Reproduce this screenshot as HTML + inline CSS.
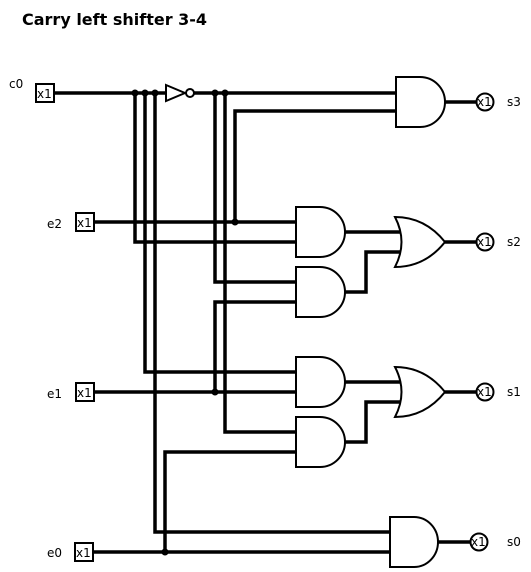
<!DOCTYPE html>
<html><head><style>
html,body{margin:0;padding:0;background:#fff;}
svg{display:block;}
text{font-family:"DejaVu Sans","Liberation Sans",sans-serif;}
</style></head><body>
<svg width="531" height="572" viewBox="0 0 531 572" xmlns="http://www.w3.org/2000/svg">
<rect width="531" height="572" fill="#fff"/>
<text x="22" y="25" font-size="16" font-weight="bold">Carry left shifter 3-4</text>
<g font-size="12">
<text x="9" y="88">c0</text>
<text x="47" y="228">e2</text>
<text x="47" y="398">e1</text>
<text x="47" y="557">e0</text>
<text x="507" y="106">s3</text>
<text x="507" y="246">s2</text>
<text x="507" y="396">s1</text>
<text x="507" y="546">s0</text>
</g>
<g fill="none" stroke="#000" stroke-width="3.5">
<path d="M54 93H166M193 93H396"/>
<path d="M135 93V242H296"/>
<path d="M145 93V372H296"/>
<path d="M155 93V532H391"/>
<path d="M215 93V282H296"/>
<path d="M225 93V432H296"/>
<path d="M235 222V111H396"/>
<path d="M94 222H296"/>
<path d="M94 392H296"/>
<path d="M215 392V302H296"/>
<path d="M93 552H391"/>
<path d="M165 552V452H296"/>
<path d="M345 232H400M345 292H366V252H400"/>
<path d="M345 382H400M345 442H366V402H400"/>
<path d="M445 102H477M445 242H477M445 392H477M437 542H470"/>
</g>
<g fill="#000">
<circle cx="135" cy="93" r="3.5"/><circle cx="145" cy="93" r="3.5"/><circle cx="155" cy="93" r="3.5"/>
<circle cx="215" cy="93" r="3.5"/><circle cx="225" cy="93" r="3.5"/>
<circle cx="235" cy="222" r="3.5"/><circle cx="215" cy="392" r="3.5"/><circle cx="165" cy="552" r="3.5"/>
</g>
<g fill="#fff" stroke="#000" stroke-width="2">
<path d="M166 85L185 93L166 101Z"/>
<circle cx="190" cy="93" r="4"/>
<path d="M396 77H420A25 25 0 0 1 420 127H396Z"/>
<path d="M296 207H320A25 25 0 0 1 320 257H296Z"/>
<path d="M296 267H320A25 25 0 0 1 320 317H296Z"/>
<path d="M296 357H320A25 25 0 0 1 320 407H296Z"/>
<path d="M296 417H320A25 25 0 0 1 320 467H296Z"/>
<path d="M390 517H414A24 25 0 0 1 414 567H390Z"/>
<path d="M395 217Q425 217 445 242Q425 267 395 267Q408 242 395 217Z"/>
<path d="M395 367Q425 367 445 392Q425 417 395 417Q408 392 395 367Z"/>
<rect x="36" y="84" width="18" height="18"/>
<rect x="76" y="213" width="18" height="18"/>
<rect x="76" y="383" width="18" height="18"/>
<rect x="75" y="543" width="18" height="18"/>
<circle cx="485" cy="102" r="8.5"/>
<circle cx="485" cy="242" r="8.5"/>
<circle cx="485" cy="392" r="8.5"/>
<circle cx="479" cy="542" r="8.5"/>
</g>
<g font-size="12">
<text x="37" y="98">x1</text>
<text x="77" y="227">x1</text>
<text x="77" y="397">x1</text>
<text x="76" y="557">x1</text>
<text x="477" y="106">x1</text>
<text x="477" y="246">x1</text>
<text x="477" y="396">x1</text>
<text x="471" y="546">x1</text>
</g>
</svg>
</body></html>
